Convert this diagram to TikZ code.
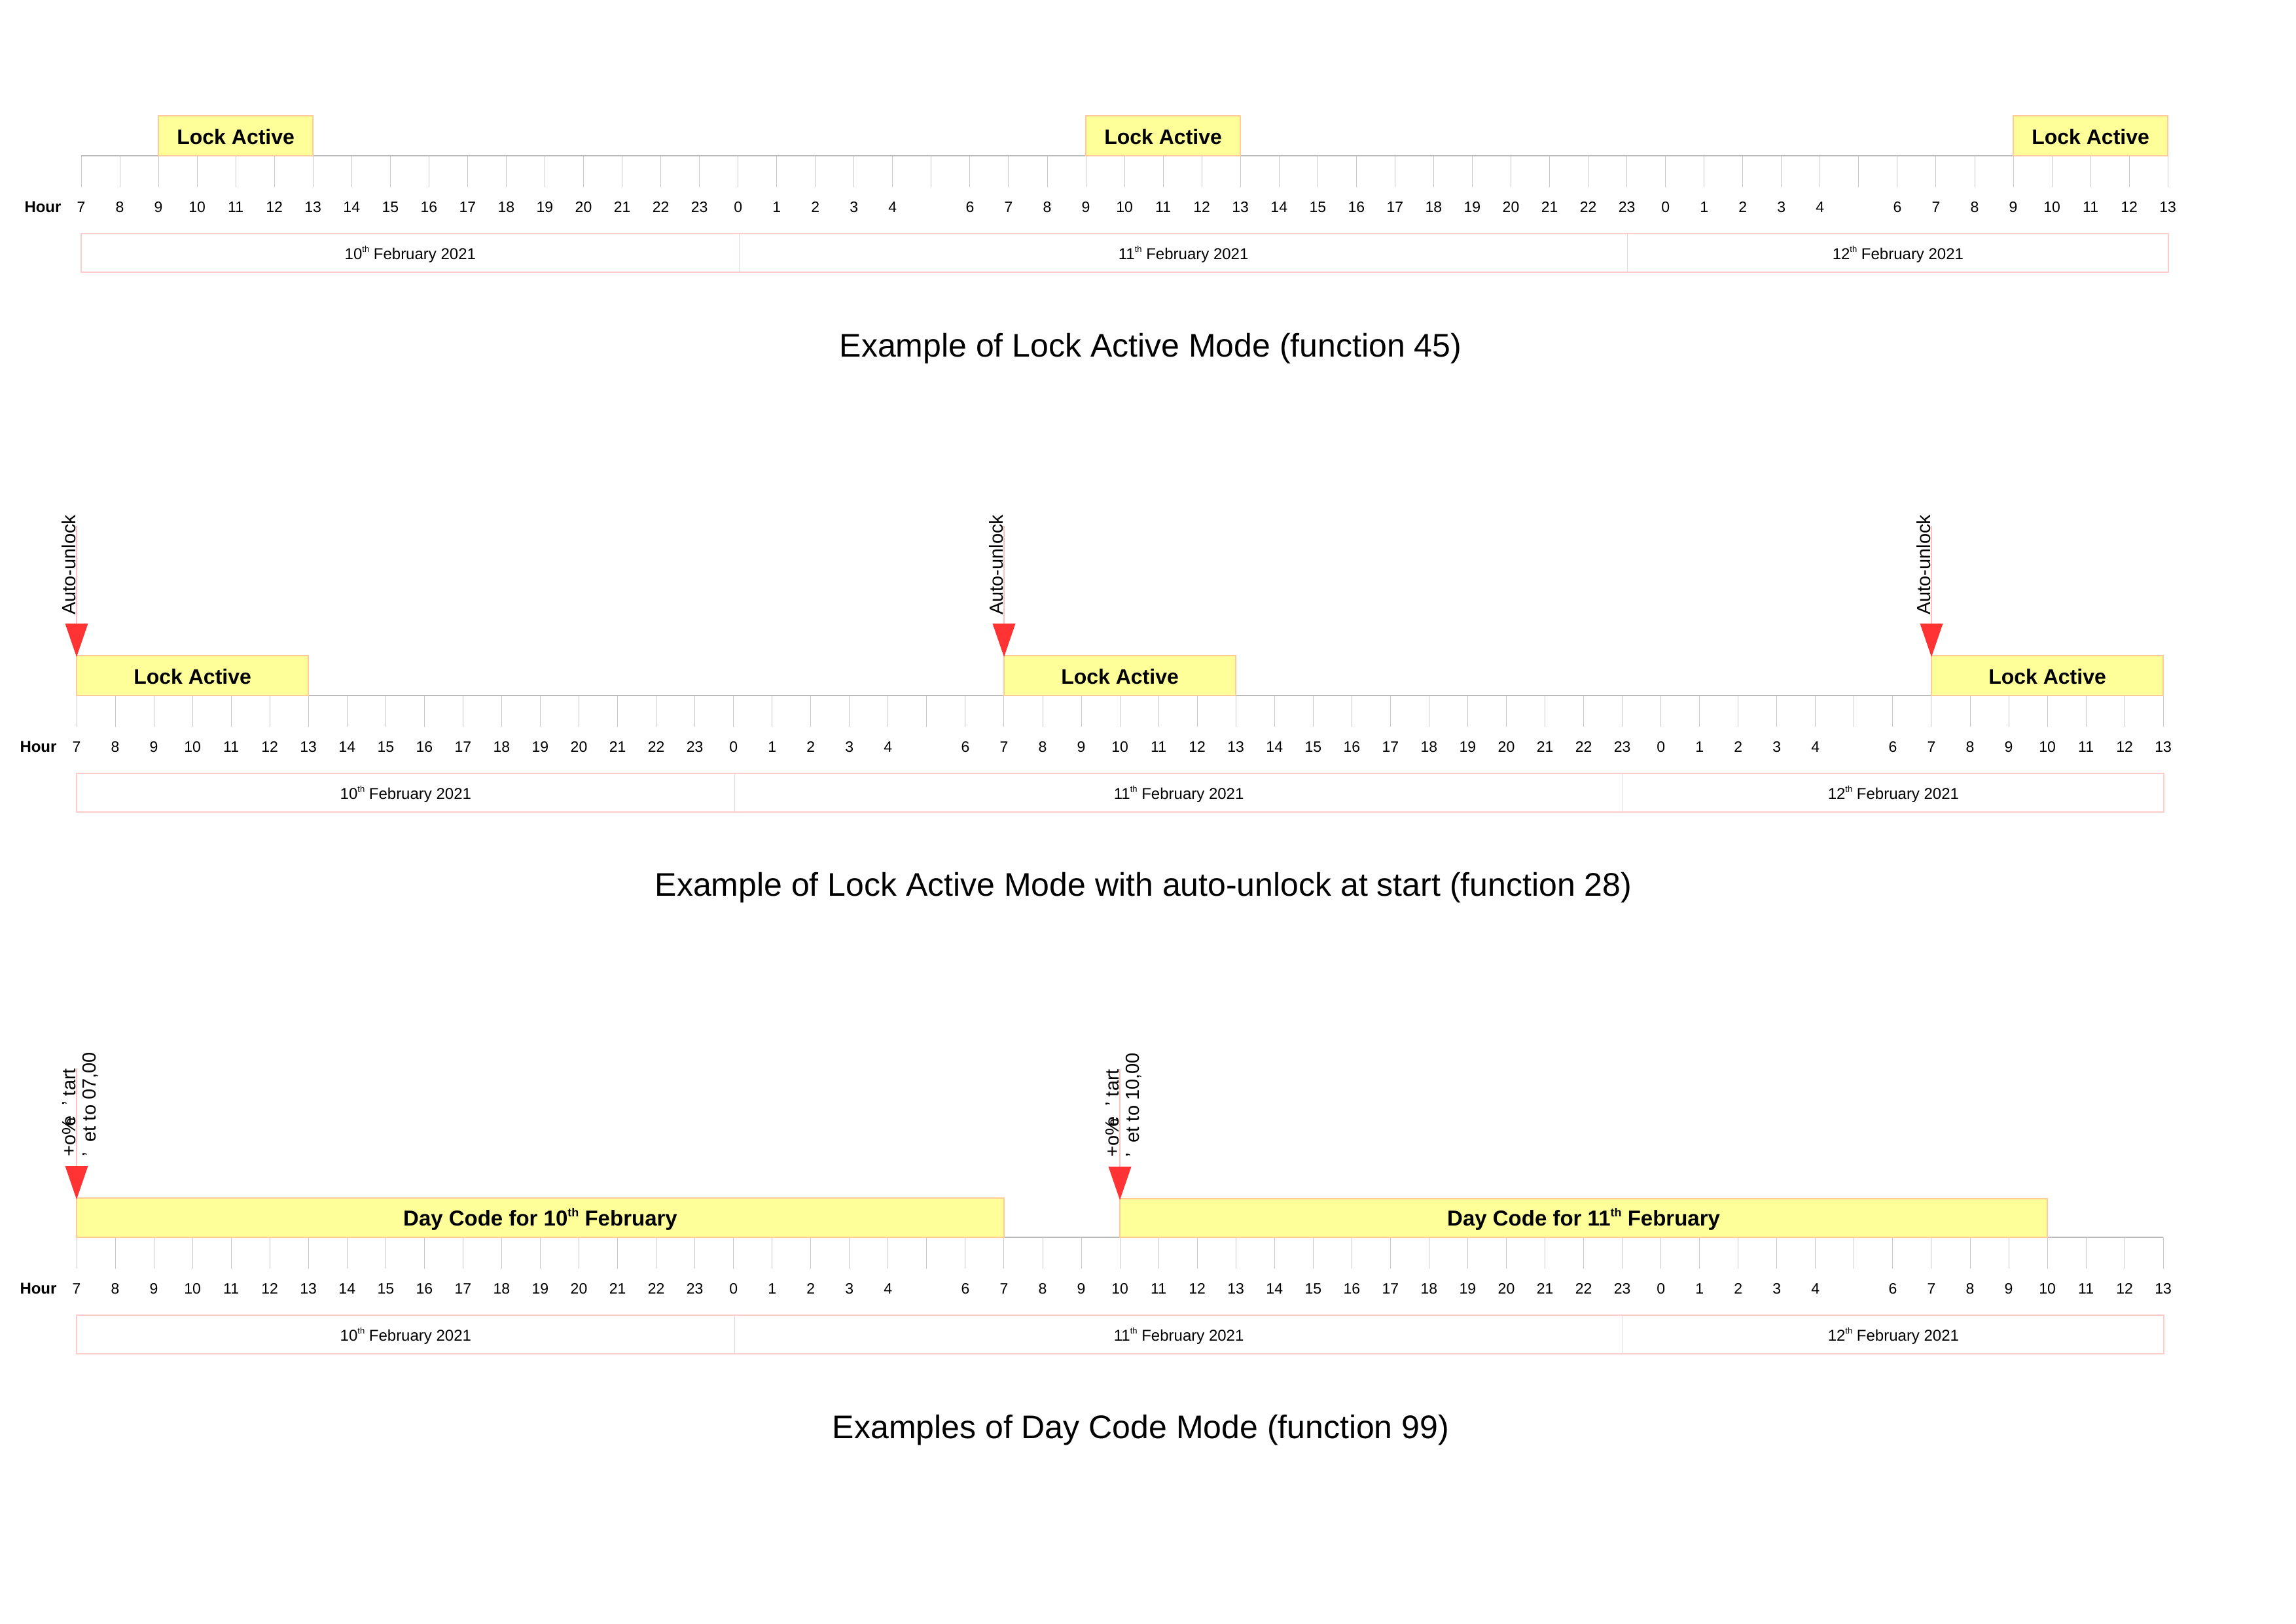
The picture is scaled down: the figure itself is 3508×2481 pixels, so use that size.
\documentclass[tikz,border=0pt]{standalone}
\usepackage{fontspec}
\setmainfont{Liberation Sans}
\definecolor{boxfill}{HTML}{FFFF99}
\definecolor{boxedge}{HTML}{FFCC99}
\definecolor{axisgray}{HTML}{BBBBBB}
\definecolor{tickgray}{HTML}{C8C8C8}
\definecolor{dateedge}{HTML}{FFCCCC}
\definecolor{datediv}{HTML}{E6D8D8}
\definecolor{arrowred}{HTML}{FF3333}
\definecolor{arrowline}{HTML}{FFC0C0}
\tikzset{
  axisline/.style={draw=axisgray, line width=2pt},
  tickline/.style={draw=tickgray, line width=1pt},
  ticklbl/.style={font={\fontsize{23}{27}\selectfont}, anchor=base, inner sep=0pt},
  hourlbl/.style={font={\fontsize{24}{28}\selectfont\bfseries}, anchor=base, inner sep=0pt},
  dateframe/.style={draw=dateedge, line width=1.5pt},
  datesep/.style={draw=datediv, line width=1.3pt},
  datetxt/.style={font={\fontsize{24}{28}\selectfont}, anchor=base, inner sep=0pt},
  activebox/.style={fill=boxfill, draw=boxedge, line width=1.5pt},
  activetxt/.style={font={\fontsize{32}{38}\selectfont\bfseries}, anchor=base, inner sep=0pt},
  daycodetxt/.style={font={\fontsize{33}{40}\selectfont\bfseries}, anchor=base, inner sep=0pt},
  markline/.style={draw=arrowline, line width=2pt},
  marktri/.style={fill=arrowred},
  rotlbl/.style={font={\fontsize{29}{34}\selectfont}, rotate=90, anchor=base west, inner sep=0pt},
  titletxt/.style={font={\fontsize{50}{60}\selectfont}, anchor=base, inner sep=0pt},
}
% small raised "th": #1 size in pt
\newcommand{\myth}[1]{\raisebox{.42em}{\fontsize{#1}{#1}\selectfont th}}
% #1 prefix, #2 x of first tick, #3 y of axis
\newcommand{\mytimeline}[3]{%
  \foreach \h in {0,...,54}{%
    \coordinate (#1-t\h) at ({#2+59.04*\h},#3);
    \draw[tickline] (#1-t\h) -- ++(0,48);
  }
  \draw[axisline] (#1-t0) -- (#1-t54);
  \node[hourlbl] (#1-hour) at ({#2-58.5},{#3+86}) {Hour};
  \foreach \h in {0,...,54}{%
    \pgfmathtruncatemacro{\hr}{mod(\h+7,24)}%
    \ifnum\hr=5\relax\else
      \node[ticklbl] (#1-l\h) at ({#2+59.04*\h},{#3+86}) {\hr};
    \fi
  }
  \draw[dateframe] ({#2},{#3+119}) rectangle ({#2+59.04*54+1},{#3+178});
  \draw[datesep] ({#2+59.04*17+2},{#3+119}) -- ({#2+59.04*17+2},{#3+178});
  \draw[datesep] ({#2+59.04*40+1},{#3+119}) -- ({#2+59.04*40+1},{#3+178});
  \node[datetxt] (#1-d1) at ({#2+(59.04*17+2)/2},{#3+158}) {10\myth{13} February 2021};
  \node[datetxt] (#1-d2) at ({#2+(59.04*57+3)/2},{#3+158}) {11\myth{13} February 2021};
  \node[datetxt] (#1-d3) at ({#2+(59.04*94+2)/2},{#3+158}) {12\myth{13} February 2021};
}
% #1 name, #2 x, #3 top of box below
\newcommand{\mymarker}[3]{%
  \coordinate (#1-top) at (#2,{#3-198});
  \coordinate (#1-tri) at (#2,{#3-49});
  \draw[markline] (#1-top) -- (#1-tri);
  \fill[marktri] ($(#1-tri)+(-17.5,0)$) -- ($(#1-tri)+(17.5,0)$) -- ($(#1-tri)+(0,51)$) -- cycle;
}
\usetikzlibrary{calc}
\begin{document}
\begin{tikzpicture}[x=1pt,y=-1pt]
\useasboundingbox (0,0) rectangle (3508,2481);
\fill[white] (0,0) rectangle (3508,2481);

% ---------------- Panel 1 ----------------
\mytimeline{pa}{124}{238}
\draw[activebox] (pa-t2) rectangle ($(pa-t6)+(0,-61)$);
\draw[activebox] (pa-t26) rectangle ($(pa-t30)+(0,-61)$);
\draw[activebox] (pa-t50) rectangle ($(pa-t54)+(0,-61)$);
\node[activetxt] (pa-lock1) at ($(pa-t2)!0.5!(pa-t6)+(0,-18)$) {Lock Active};
\node[activetxt] (pa-lock2) at ($(pa-t26)!0.5!(pa-t30)+(0,-18)$) {Lock Active};
\node[activetxt] (pa-lock3) at ($(pa-t50)!0.5!(pa-t54)+(0,-18)$) {Lock Active};
\node[titletxt] (pa-title) at (1758,545) {Example of Lock Active Mode (function 45)};

% ---------------- Panel 2 ----------------
\mytimeline{pb}{117}{1063}
\draw[activebox] (pb-t0) rectangle ($(pb-t6)+(0,-61)$);
\draw[activebox] (pb-t24) rectangle ($(pb-t30)+(0,-61)$);
\draw[activebox] (pb-t48) rectangle ($(pb-t54)+(0,-61)$);
\node[activetxt] (pb-lock1) at ($(pb-t0)!0.5!(pb-t6)+(0,-18)$) {Lock Active};
\node[activetxt] (pb-lock2) at ($(pb-t24)!0.5!(pb-t30)+(0,-18)$) {Lock Active};
\node[activetxt] (pb-lock3) at ($(pb-t48)!0.5!(pb-t54)+(0,-18)$) {Lock Active};
\mymarker{pb-m1}{117}{1002}
\mymarker{pb-m2}{1534}{1002}
\mymarker{pb-m3}{2951}{1002}
\node[rotlbl] (pb-u1) at ($(pb-m1-tri)+(-2,-13)$) {Auto-unlock};
\node[rotlbl] (pb-u2) at ($(pb-m2-tri)+(-2,-13)$) {Auto-unlock};
\node[rotlbl] (pb-u3) at ($(pb-m3-tri)+(-2,-13)$) {Auto-unlock};
\node[titletxt] (pb-title) at (1747,1369) {Example of Lock Active Mode with auto-unlock at start (function 28)};

% ---------------- Panel 3 ----------------
\mytimeline{pc}{117}{1891}
\draw[activebox] (pc-t0) rectangle ($(pc-t24)+(0,-60)$);
\draw[activebox] (pc-t27) rectangle ($(pc-t51)+(0,-59)$);
\node[daycodetxt] (pc-code1) at ($(pc-t0)!0.5!(pc-t24)+(0,-18)$) {Day Code for 10\myth{18} February};
\node[daycodetxt] (pc-code2) at ($(pc-t27)!0.5!(pc-t51)+(0,-18)$) {Day Code for 11\myth{18} February};
\mymarker{pc-m1}{117}{1831}
\mymarker{pc-m2}{1711}{1832}
\node[rotlbl] (pc-s1a) at ($(pc-m1-tri)+(-1.5,-14)$) {+o\%\kern-.44em e\ \ '\ tart};
\node[rotlbl] (pc-s1b) at ($(pc-m1-tri)+(29.5,-14)$) {'\ \ et to 07,00};
\node[rotlbl] (pc-s2a) at ($(pc-m2-tri)+(-1.5,-14)$) {+o\%\kern-.44em e\ \ '\ tart};
\node[rotlbl] (pc-s2b) at ($(pc-m2-tri)+(29.5,-14)$) {'\ \ et to 10,00};
\node[titletxt] (pc-title) at (1743,2198) {Examples of Day Code Mode (function 99)};
\end{tikzpicture}
\end{document}
